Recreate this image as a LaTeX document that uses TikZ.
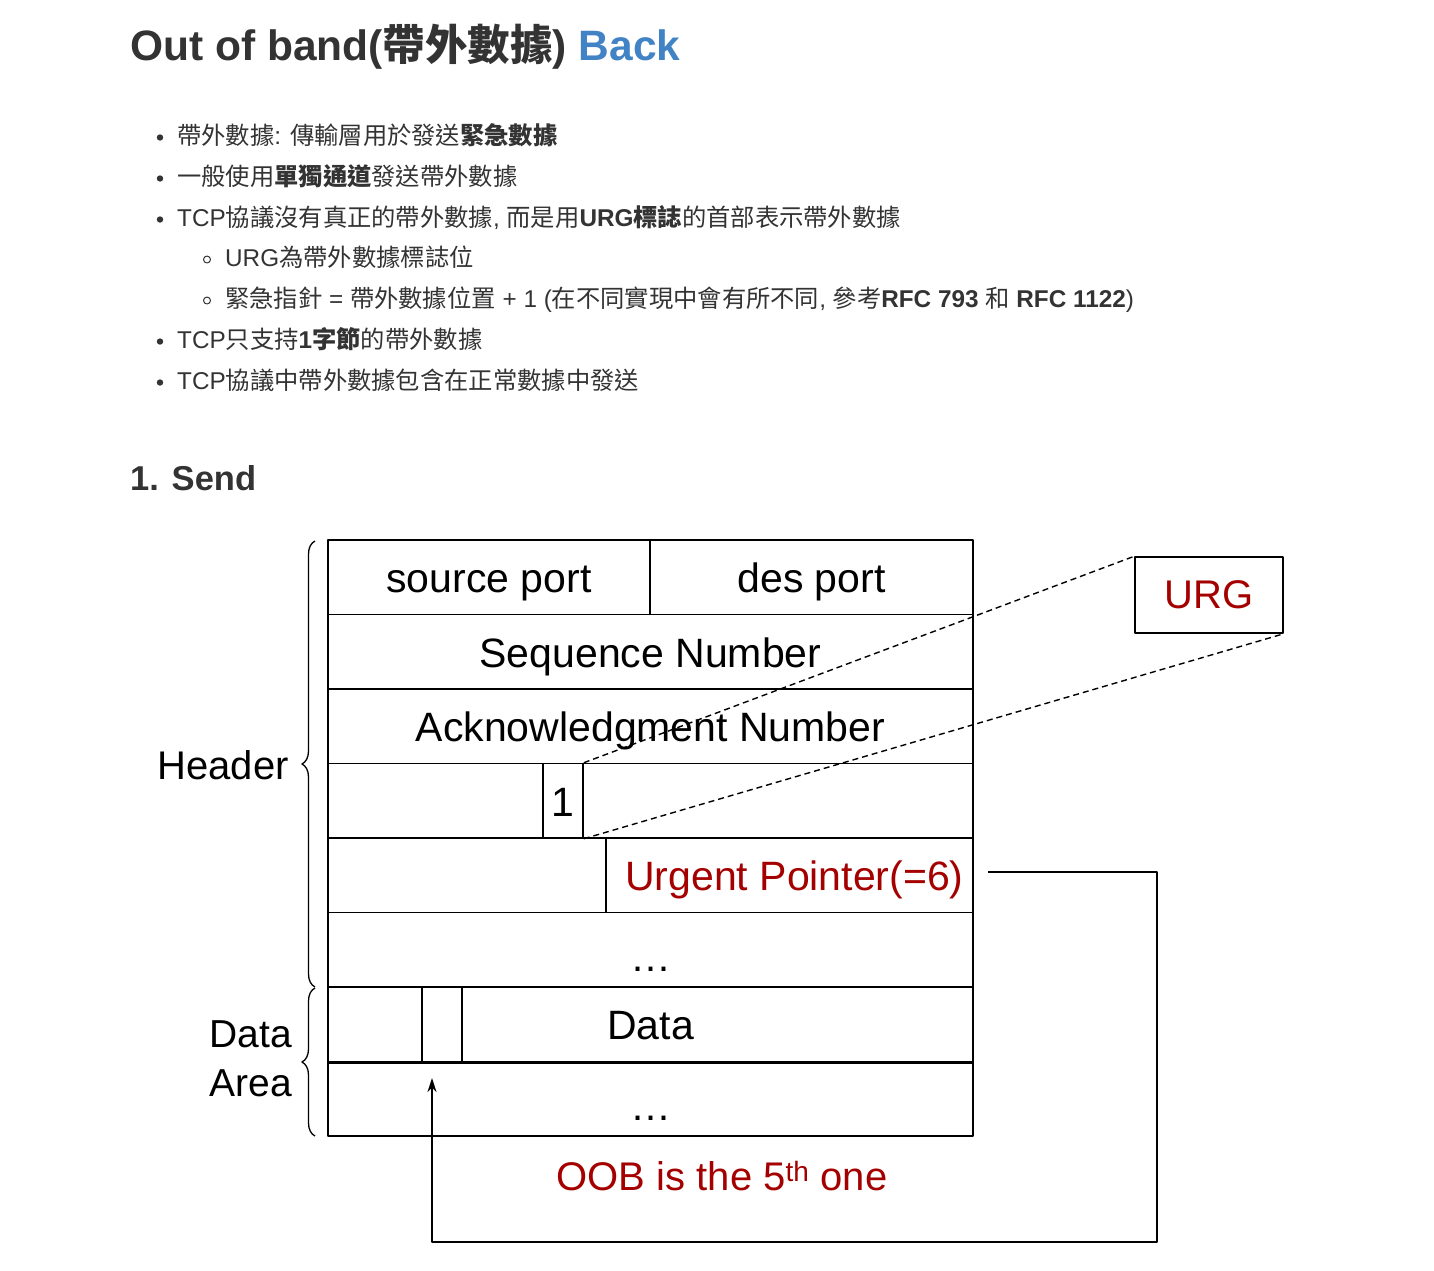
\documentclass[tikz,border=0pt]{standalone}
\usepackage{fontspec}
\setmainfont{Liberation Sans}
\newfontfamily\cjk{Noto Sans CJK TC}
\usetikzlibrary{decorations.pathreplacing,arrows.meta}
\definecolor{txtgray}{HTML}{333333}
\definecolor{linkblue}{HTML}{4183C4}
\definecolor{urgred}{HTML}{A50000}
\newcommand\zht[1]{{\cjk #1}}
\newcommand\lowdots{\raisebox{-6pt}{\ldots}}
\tikzset{
	cell/.style={draw, line width=1.5pt, minimum height=74.5pt, inner sep=0pt, text height=33pt, text depth=2pt, font=\fontsize{41}{45}\selectfont},
	bodytxt/.style={anchor=base west, inner sep=0pt, text=txtgray, font=\fontsize{24.3}{28}\selectfont},
	redtxt/.style={text=urgred, font=\fontsize{40}{44}\selectfont},
	bracebar/.style={decorate, decoration={brace, amplitude=13pt, aspect=0.5}, line width=1.3pt},
	guide/.style={dash pattern=on 6pt off 4pt, line width=1.4pt},
}
\begin{document}
\begin{tikzpicture}[x=1pt, y=-1pt, line join=round]
	\useasboundingbox (0,0) rectangle (1434,1270);
	% page text
	\node[anchor=base west, inner sep=0pt, text=txtgray, font=\fontsize{42.5}{46}\selectfont\bfseries] (title) at (130,60)
		{Out of band(\zht{帶外數據}) \textcolor{linkblue}{Back}};
	\node[bodytxt] (b1) at (177,144.5) {\zht{帶外數據}: \zht{傳輸層用於發送\textbf{緊急數據}}};
	\node[bodytxt] (b2) at (177,185.5) {\zht{一般使用\textbf{單獨通道}發送帶外數據}};
	\node[bodytxt] (b3) at (177,226.5) {TCP\zht{協議沒有真正的帶外數據}, \zht{而是用}\textbf{URG\zht{標誌}}\zht{的首部表示帶外數據}};
	\node[bodytxt] (s1) at (225,266.5) {URG\zht{為帶外數據標誌位}};
	\node[bodytxt] (s2) at (225,307.5) {\zht{緊急指針} = \zht{帶外數據位置} + 1 (\zht{在不同實現中會有所不同}, \zht{參考}\textbf{RFC 793} \zht{和} \textbf{RFC 1122})};
	\node[bodytxt] (b4) at (177,348.5) {TCP\zht{只支持}\textbf{1\zht{字節}}\zht{的帶外數據}};
	\node[bodytxt] (b5) at (177,389.5) {TCP\zht{協議中帶外數據包含在正常數據中發送}};
	\foreach \y in {137.5,178.5,219.5,341.5,382.5}
		\fill[txtgray] (160,\y) circle (3.2);
	\foreach \y in {259.5,300.5}
		\draw[txtgray, line width=1pt] (207,\y) circle (3.5);
	\node[anchor=base west, inner sep=0pt, text=txtgray, font=\fontsize{34.5}{38}\selectfont\bfseries] (send) at (130,490) {1. Send};
	% tcp segment
	\node[cell, minimum width=322pt] (src) at (489,577.25) {source port};
	\node[cell, minimum width=323pt] (des) at (811.5,577.25) {des port};
	\node[cell, minimum width=645pt] (seq) at (650.5,651.75) {Sequence Number};
	\node[cell, minimum width=645pt] (ack) at (650.5,726.25) {Acknowledgment Number};
	\node[cell, minimum width=215pt] (flagl) at (435.5,800.75) {};
	\node[cell, minimum width=40pt] (urgbit) at (563,800.75) {1};
	\node[cell, minimum width=390pt] (flagr) at (778,800.75) {};
	\node[cell, minimum width=278pt] (chk) at (467,875.25) {};
	\node[cell, minimum width=367pt, text=urgred] (uptr) at (789.5,875.25) {\hspace{10pt}Urgent Pointer(=6)};
	\node[cell, minimum width=645pt] (opt) at (650.5,949.75) {\lowdots};
	\node[cell, minimum width=645pt] (data) at (650.5,1024.25) {Data};
	\node[cell, minimum width=94pt] (dleft) at (375,1024.25) {};
	\node[cell, minimum width=40pt] (oob) at (442,1024.25) {};
	\node[cell, minimum width=645pt] (rest) at (650.5,1098.75) {\lowdots};
	\draw[line width=2.6pt] (data.south west) -- (data.south east);
	% braces
	\draw[bracebar] (315,987) -- (315,541);
	\draw[bracebar] (315,1136) -- (315,988);
	\node[anchor=east, inner sep=0pt, font=\fontsize{40}{44}\selectfont] (hdr) at (289,765) {Header};
	\node[anchor=east, align=right, inner sep=0pt, font=\fontsize{39}{49}\selectfont] (darea) at (292,1059) {Data\\Area};
	% urg flag
	\node[draw, line width=1.5pt, minimum width=148pt, minimum height=76pt, redtxt] (urg) at (1209,595) {URG};
	\draw[guide] (urgbit.north east) -- (urg.north west);
	\draw[guide] (urgbit.south east) -- (urg.south east);
	% urgent pointer
	\coordinate (ptrout) at (988,872);
	\coordinate (oobin) at (432,1078);
	\draw[-{Stealth[length=14pt,width=9pt]}, line width=1.5pt] (ptrout) -| (1157,1242) -| (oobin);
	\node[redtxt] (oobtxt) at (722,1176) {OOB is the 5\textsuperscript{th} one};
\end{tikzpicture}
\end{document}
